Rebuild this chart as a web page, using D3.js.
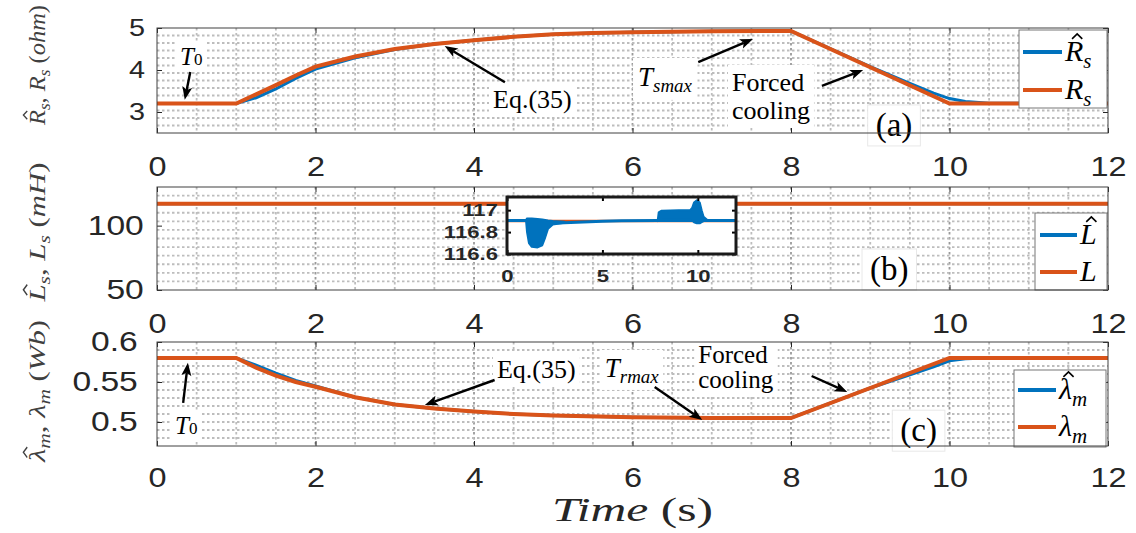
<!DOCTYPE html>
<html><head><meta charset="utf-8">
<script src="https://cdn.jsdelivr.net/npm/d3@7"></script>
<style>body{margin:0;background:#fff}svg{display:block}</style>
</head><body>
<svg id="c" width="1136" height="533"></svg>
<script>
// ---------------- data ----------------
const xTicks = [0,2,4,6,8,10,12];
const xTickLabels = ['0','2','4','6','8','10','12'];
const aTicks = [3,4,5], aTickLabels = ['3','4','5'];
const bTicks = [50,100], bTickLabels = ['50','100'];
const cTicks = [0.5,0.55,0.6], cTickLabels = ['0.5','0.55','0.6'];
const insetXTicks = [0,5,10], insetXTickLabels = ['0','5','10'];
const insetYTicks = [116.6,116.8,117], insetYTickLabels = ['116.6','116.8','117'];

// (a) stator resistance (ohm)
const tRs   = [0,1,1.25,1.5,1.75,2,2.5,3,3.5,4,4.5,5,5.5,6,7,8,10,12];
const Rs    = [3.2,3.2,3.42,3.64,3.87,4.08,4.32,4.5,4.62,4.71,4.79,4.85,4.88,4.9,4.92,4.93,3.2,3.2];
const tRsHat= [0,1,1.25,1.5,1.75,2,2.5,3,3.5,4,4.5,5,5.5,6,7,8,9,9.5,9.8,10,10.2,10.5,12];
const RsHat = [3.2,3.2,3.34,3.55,3.8,4.02,4.29,4.49,4.62,4.71,4.79,4.85,4.88,4.9,4.92,4.93,4.08,3.68,3.45,3.32,3.25,3.21,3.2];

// (b) inductance (mH)
const tLs = [0,12], Ls = [116.9,116.9];
const tLsHat = [0,12], LsHat = [116.9,116.9];
// inset estimate
const insetT    = [0,1.0,2.3,3,4,5,6,7.9,10.5,12];
const insetLhat = [116.905,116.905,116.88,116.885,116.892,116.898,116.903,116.905,116.905,116.905];
const dipT    = [1.0,1.05,1.15,1.3,1.6,1.85,2.0,2.15,2.4,3.0];
const dipLow  = [116.9,116.8,116.7,116.665,116.66,116.68,116.75,116.83,116.87,116.885];
const dipHigh = [116.91,116.925,116.925,116.925,116.92,116.915,116.91,116.905,116.9,116.895];
const riseT    = [7.9,7.95,8.1,9.0,9.6,9.7,9.8,9.95,10.1,10.2,10.3,10.5];
const riseHigh = [116.91,116.98,116.995,117.0,117.0,117.02,117.07,117.09,117.07,117.0,116.94,116.91];
const riseLow  = [116.9,116.91,116.912,116.912,116.912,116.905,116.89,116.88,116.88,116.89,116.9,116.9];

// (c) flux linkage (Wb)
const tLam   = [0,1,1.25,1.5,1.75,2,2.5,3,3.5,4,4.5,5,6,7,8,10,12];
const Lam    = [0.58,0.58,0.568,0.558,0.55,0.544,0.531,0.522,0.517,0.513,0.51,0.508,0.506,0.505,0.505,0.58,0.58];
const tLamHat= [0,1,1.25,1.5,1.75,2,2.5,3,3.5,4,4.5,5,6,7,8,9,9.5,9.8,10,10.2,10.5,12];
const LamHat = [0.58,0.58,0.571,0.561,0.552,0.545,0.531,0.522,0.517,0.513,0.51,0.508,0.506,0.505,0.505,0.5425,0.559,0.569,0.5765,0.579,0.58,0.58];

// ---------------- drawing ----------------
const BLUE = '#0072BD', ORANGE = '#D95319';
const SERIF = 'Liberation Serif', SANS = 'Liberation Sans';
const NB = '\u00A0';
const svg = d3.select('#c');
const x = d3.scaleLinear().domain([0,12]).range([157,1108]);
const zip = (a,b)=>a.map((v,i)=>[v,b[i]]);

// math-like text built from separate <text> runs
function mtext(g, px, py, parts, o){
  const base = o.size, fill = o.fill||'#000';
  const outer = g.append('g');
  const inner = outer.append('g');
  let xc = 0, yb = 0, W = 0;
  const hats = [];
  parts.forEach(p=>{
    if(p.nl){ xc = 0; yb += p.nl; }
    const sz = p.size || (p.sub? base*0.7 : base);
    const off = p.sub ? base*0.22 : 0;
    const t = inner.append('text').attr('x',xc).attr('y',yb+off).attr('fill',fill)
      .style('font-family',SERIF).style('font-size',sz+'px').style('white-space','pre')
      .style('font-style',p.it?'italic':'normal').text(p.t);
    const w = t.node().getComputedTextLength();
    if(p.hat) hats.push({x:xc,w,sz,yb});
    xc += w; W = Math.max(W,xc);
  });
  hats.forEach(h=>{
    const cx = h.x + h.w*0.5 + h.sz*0.1;
    const y1 = h.yb - h.sz*0.74, y0 = h.yb - h.sz*0.9, hw = h.sz*0.17;
    inner.append('path').attr('d',`M${cx-hw},${y1}L${cx},${y0}L${cx+hw},${y1}`)
      .attr('fill','none').attr('stroke',fill).attr('stroke-width',Math.max(1,h.sz*0.055));
  });
  const s = o.len ? o.len/W : 1;
  const shift = (o.anchor==='middle') ? -W/2 : 0;
  inner.attr('transform',`translate(${shift},0)`);
  outer.attr('transform',`translate(${px},${py}) scale(${s},1)`);
  return outer;
}
function arrow(g,x1,y1,x2,y2){
  const L=13,Wd=5,back=3;
  const dx=x2-x1,dy=y2-y1,d=Math.hypot(dx,dy),ux=dx/d,uy=dy/d,px=-uy,py=ux;
  const bx=x2-ux*L,by=y2-uy*L, nx=x2-ux*(L-back), ny=y2-uy*(L-back);
  g.append('line').attr('x1',x1).attr('y1',y1).attr('x2',nx).attr('y2',ny)
    .attr('stroke','#000').attr('stroke-width',2.4);
  g.append('path').attr('d',`M${x2},${y2}L${bx+px*Wd},${by+py*Wd}L${nx},${ny}L${bx-px*Wd},${by-py*Wd}Z`).attr('fill','#000');
}
function annot(g, item, padX, padY, stroke){
  const grp = g.append('g');
  const rect = grp.append('rect').attr('fill','#fff').attr('stroke',stroke||'none');
  const w = grp.append('g');
  mtext(w,item.x,item.y,item.parts,{size:item.size,anchor:item.anchor});
  const b = w.node().getBBox();
  rect.attr('x',b.x-padX).attr('y',b.y-padY).attr('width',b.width+2*padX).attr('height',b.height+2*padY);
}
function legend(g,bx,by,bw,bh,entries){
  const lg = g.append('g');
  lg.append('rect').attr('x',bx).attr('y',by).attr('width',bw).attr('height',bh)
    .attr('fill','#fff').attr('stroke','#777').attr('stroke-width',1);
  entries.forEach(e=>{
    lg.append('line').attr('x1',e.x1).attr('x2',e.x2).attr('y1',e.ly).attr('y2',e.ly)
      .attr('stroke',e.color).attr('stroke-width',4);
    mtext(lg,e.tx,e.ly+9,e.parts,{size:30});
  });
}
function tickText(sel,size,bold,sx){
  sel.selectAll('text').style('font-family',SANS).style('font-size',size+'px')
    .style('font-weight',bold?'bold':'normal').attr('fill','#262626').attr('transform',`scale(${sx},1)`);
}
function panel(cfg){
  const y = d3.scaleLinear().domain(cfg.dom).range([cfg.bottom,cfg.top]);
  const g = svg.append('g');
  const h = cfg.bottom-cfg.top;
  g.append('rect').attr('x',x(0)).attr('y',cfg.top).attr('width',x(12)-x(0)).attr('height',h).attr('fill','#fff');
  const grid = g.append('g').attr('fill','none').attr('stroke-dasharray','2.5,2.5').attr('stroke-width',1.8);
  d3.range(1,24).forEach(i=>{
    const xv = x(i*0.5);
    grid.append('line').attr('x1',xv).attr('x2',xv).attr('y1',cfg.top).attr('y2',cfg.bottom)
      .attr('stroke', i%4===0 ? '#9a9a9a' : '#bdbdbd');
  });
  d3.range(1,cfg.nh).forEach(i=>{
    const yv = cfg.top + i*h/cfg.nh;
    grid.append('line').attr('x1',x(0)).attr('x2',x(12)).attr('y1',yv).attr('y2',yv).attr('stroke','#bdbdbd');
  });
  const styleAx = (sel)=>{ sel.select('.domain').remove(); sel.selectAll('line').attr('stroke','#262626'); };
  const bx = g.append('g').attr('transform',`translate(0,${cfg.bottom})`)
    .call(d3.axisBottom(x).tickValues(xTicks).tickFormat((d,i)=>xTickLabels[i]).tickSizeInner(-5).tickSizeOuter(0).tickPadding(cfg.xpad));
  styleAx(bx); tickText(bx,27,false,1.2);
  const tx = g.append('g').attr('transform',`translate(0,${cfg.top})`)
    .call(d3.axisTop(x).tickValues(xTicks).tickFormat('').tickSizeInner(-5).tickSizeOuter(0));
  styleAx(tx);
  const ly = g.append('g').attr('transform',`translate(${x(0)},0)`)
    .call(d3.axisLeft(y).tickValues(cfg.yt).tickFormat((d,i)=>cfg.ytl[i]).tickSizeInner(-5).tickSizeOuter(0).tickPadding(cfg.ypad));
  styleAx(ly); tickText(ly,cfg.yfs,false,1.2);
  const ry = g.append('g').attr('transform',`translate(${x(12)},0)`)
    .call(d3.axisRight(y).tickValues(cfg.yt).tickFormat('').tickSizeInner(-5).tickSizeOuter(0));
  styleAx(ry);
  return {g,y};
}
function box(g,y0,y1){
  g.append('rect').attr('x',x(0)).attr('y',y0).attr('width',x(12)-x(0)).attr('height',y1-y0)
    .attr('fill','none').attr('stroke','#404040').attr('stroke-width',1);
}
function ylabel(cy,len,parts){
  const g = svg.append('g').attr('transform',`translate(45,${cy}) rotate(-90)`);
  mtext(g,0,0,parts,{size:24,anchor:'middle',len:len,fill:'#404040'});
}

// ---------- panel (a) ----------
const A = panel({top:28,bottom:133,dom:[2.5,5],yt:aTicks,ytl:aTickLabels,yfs:24,ypad:10,xpad:24,nh:14});
{
  const {g,y} = A;
  const line = d3.line().x(d=>x(d[0])).y(d=>y(d[1]));
  g.append('path').datum(zip(tRsHat,RsHat)).attr('d',line).attr('fill','none').attr('stroke',BLUE).attr('stroke-width',3);
  g.append('path').datum(zip(tRs,Rs)).attr('d',line).attr('fill','none').attr('stroke',ORANGE).attr('stroke-width',4);
  annot(g,{x:x(0.29),y:y(4.12),size:25,parts:[{t:'T',it:1},{t:'0',size:17}]},3,1);
  annot(g,{x:x(4.24),y:y(3.095),size:26,parts:[{t:'Eq.(35)'}]},4,3);
  annot(g,{x:x(6.07),y:y(3.62),size:27,parts:[{t:'T',it:1},{t:'smax',it:1,sub:1}]},5,4);
  annot(g,{x:x(7.255),y:y(3.5),size:26,parts:[{t:'Forced'},{t:'cooling',nl:y(2.833)-y(3.5)}]},4,3);
  arrow(g,x(0.42),y(3.95),x(0.35),y(3.29));
  arrow(g,x(4.39),y(3.71),x(3.63),y(4.57));
  arrow(g,x(6.83),y(4.19),x(7.52),y(4.74));
  arrow(g,x(8.39),y(3.62),x(8.91),y(4.0));
  annot(g,{x:x(9.3),y:y(2.43),size:33,anchor:'middle',parts:[{t:'(a)'}]},8,2,'#e8e8e8');
  legend(g,1019,30,88,78,[
    {color:BLUE,ly:52,x1:1023,x2:1062,tx:1065,parts:[{t:'R',it:1,hat:1},{t:'s',it:1,sub:1}]},
    {color:ORANGE,ly:90,x1:1023,x2:1062,tx:1065,parts:[{t:'R',it:1},{t:'s',it:1,sub:1}]}
  ]);
  box(g,28,133);
}

// ---------- panel (b) ----------
const B = panel({top:187,bottom:290,dom:[50,130],yt:bTicks,ytl:bTickLabels,yfs:28,ypad:11,xpad:24,nh:12});
{
  const {g,y} = B;
  const line = d3.line().x(d=>x(d[0])).y(d=>y(d[1]));
  g.append('path').datum(zip(tLsHat,LsHat)).attr('d',line).attr('fill','none').attr('stroke',BLUE).attr('stroke-width',3);
  g.append('path').datum(zip(tLs,Ls)).attr('d',line).attr('fill','none').attr('stroke',ORANGE).attr('stroke-width',4);
  const xi = d3.scaleLinear().domain([0,12]).range([507,736]);
  const yi = d3.scaleLinear().domain([116.6,117.12]).range([254,197]);
  const ig = g.append('g');
  ig.append('rect').attr('x',507).attr('y',197).attr('width',229).attr('height',57).attr('fill','#fff');
  ig.append('clipPath').attr('id','ic').append('rect').attr('x',507).attr('y',197).attr('width',229).attr('height',57);
  const il = d3.line().x(d=>xi(d[0])).y(d=>yi(d[1]));
  const ia = d3.area().x(d=>xi(d[0])).y0(d=>yi(d[1])).y1(d=>yi(d[2]));
  const cg = ig.append('g').attr('clip-path','url(#ic)');
  cg.append('path').datum(zip(tLs,Ls)).attr('d',il).attr('fill','none').attr('stroke',ORANGE).attr('stroke-width',2.5);
  cg.append('path').datum(zip(insetT,insetLhat)).attr('d',il).attr('fill','none').attr('stroke',BLUE).attr('stroke-width',3);
  cg.append('path').datum(dipT.map((t,i)=>[t,dipLow[i],dipHigh[i]])).attr('d',ia).attr('fill',BLUE).attr('stroke',BLUE).attr('stroke-width',2).attr('stroke-linejoin','round');
  cg.append('path').datum(riseT.map((t,i)=>[t,riseLow[i],riseHigh[i]])).attr('d',ia).attr('fill',BLUE).attr('stroke',BLUE).attr('stroke-width',2).attr('stroke-linejoin','round');
  const st = sel=>{ sel.select('.domain').remove(); sel.selectAll('line').attr('stroke','#000').attr('stroke-width',2); };
  const ibx = ig.append('g').attr('transform','translate(0,254)')
    .call(d3.axisBottom(xi).tickValues(insetXTicks).tickFormat((d,i)=>insetXTickLabels[i]).tickSizeInner(-4).tickSizeOuter(0).tickPadding(16));
  st(ibx); tickText(ibx,17,true,1.3);
  st(ig.append('g').attr('transform','translate(0,197)').call(d3.axisTop(xi).tickValues(insetXTicks).tickFormat('').tickSizeInner(-4).tickSizeOuter(0)));
  const ily = ig.append('g').attr('transform','translate(507,0)')
    .call(d3.axisLeft(yi).tickValues(insetYTicks).tickFormat((d,i)=>insetYTickLabels[i]).tickSizeInner(-4).tickSizeOuter(0).tickPadding(7));
  st(ily); tickText(ily,17,true,1.3);
  st(ig.append('g').attr('transform','translate(736,0)').call(d3.axisRight(yi).tickValues(insetYTicks).tickFormat('').tickSizeInner(-4).tickSizeOuter(0)));
  ig.append('rect').attr('x',507).attr('y',197).attr('width',229).attr('height',57).attr('fill','none').attr('stroke','#1a1a1a').attr('stroke-width',3);

  annot(g,{x:x(9.24),y:y(57.8),size:33,anchor:'middle',parts:[{t:'(b)'}]},8,2,'#e8e8e8');
  legend(g,1035,213,72,77,[
    {color:BLUE,ly:235,x1:1040,x2:1077,tx:1080,parts:[{t:'L',it:1,hat:1}]},
    {color:ORANGE,ly:272,x1:1040,x2:1077,tx:1080,parts:[{t:'L',it:1}]}
  ]);
  box(g,187,290);
}

// ---------- panel (c) ----------
const C = panel({top:342,bottom:446,dom:[0.47,0.6],yt:cTicks,ytl:cTickLabels,yfs:28,ypad:16,xpad:22,nh:13});
{
  const {g,y} = C;
  const line = d3.line().x(d=>x(d[0])).y(d=>y(d[1]));
  g.append('path').datum(zip(tLamHat,LamHat)).attr('d',line).attr('fill','none').attr('stroke',BLUE).attr('stroke-width',3);
  g.append('path').datum(zip(tLam,Lam)).attr('d',line).attr('fill','none').attr('stroke',ORANGE).attr('stroke-width',4);
  annot(g,{x:x(0.227),y:y(0.485),size:25,parts:[{t:'T',it:1},{t:'0',size:17}]},3,1);
  annot(g,{x:x(4.29),y:y(0.555),size:26,parts:[{t:'Eq.(35)'}]},4,3);
  annot(g,{x:x(5.65),y:y(0.55625),size:27,parts:[{t:'T',it:1},{t:'rmax',it:1,sub:1}]},4,3);
  annot(g,{x:x(6.83),y:y(0.57375),size:25,parts:[{t:'Forced'},{t:'cooling',nl:y(0.5425)-y(0.57375)}]},4,3);
  arrow(g,x(0.33),y(0.524),x(0.39),y(0.574));
  arrow(g,x(4.26),y(0.5525),x(3.38),y(0.5213));
  arrow(g,x(6.28),y(0.5438),x(6.88),y(0.5025));
  arrow(g,x(8.26),y(0.5575),x(8.71),y(0.5375));
  annot(g,{x:x(9.61),y:y(0.476),size:33,anchor:'middle',parts:[{t:'(c)'}]},8,2,'#e8e8e8');
  legend(g,1014,370,92,77,[
    {color:BLUE,ly:390,x1:1018,x2:1056,tx:1059,parts:[{t:'λ',it:1,hat:1},{t:'m',it:1,sub:1}]},
    {color:ORANGE,ly:427,x1:1018,x2:1056,tx:1059,parts:[{t:'λ',it:1},{t:'m',it:1,sub:1}]}
  ]);
  box(g,342,446);
}

// axis labels
ylabel(65,120,[{t:'R',it:1,hat:1},{t:'s',it:1,sub:1},{t:','+NB},{t:'R',it:1},{t:'s',it:1,sub:1},{t:NB+'('},{t:'ohm',it:1},{t:')'}]);
ylabel(232,139,[{t:'L',it:1,hat:1},{t:'s',it:1,sub:1},{t:','+NB},{t:'L',it:1},{t:'s',it:1,sub:1},{t:NB+'('},{t:'mH',it:1},{t:')'}]);
ylabel(391,142,[{t:'λ',it:1,hat:1},{t:'m',it:1,sub:1},{t:','+NB},{t:'λ',it:1},{t:'m',it:1,sub:1},{t:NB+'('},{t:'Wb',it:1},{t:')'}]);
mtext(svg,632.5,521,[{t:'Time',it:1},{t:NB+'(s)'}],{size:34,anchor:'middle',len:161,fill:'#262626'});
</script>
</body></html>
